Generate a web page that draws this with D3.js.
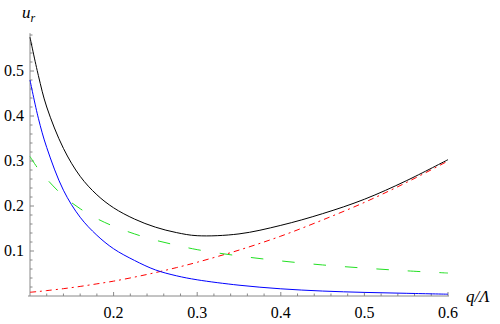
<!DOCTYPE html>
<html>
<head>
<meta charset="utf-8">
<script src="https://cdn.jsdelivr.net/npm/d3@7"></script>
<style>
  body { margin: 0; background: #fff; }
</style>
</head>
<body>
<svg id="chart" width="500" height="324"></svg>
<script>
// Sample points
var qVals     = [0.10, 0.11, 0.12, 0.14, 0.16, 0.18, 0.20, 0.225, 0.25, 0.275, 0.30, 0.35, 0.40, 0.45, 0.50, 0.55, 0.60];
var totalVals = [0.575, 0.49, 0.42, 0.328, 0.266, 0.225, 0.196, 0.171, 0.153, 0.141, 0.134, 0.138, 0.157, 0.183, 0.215, 0.256, 0.303];
var blueVals  = [0.48, 0.395, 0.33, 0.235, 0.175, 0.135, 0.105, 0.079, 0.058, 0.045, 0.036, 0.024, 0.016, 0.011, 0.008, 0.006, 0.004];
var greenVals = [0.31, 0.282, 0.26, 0.222, 0.194, 0.172, 0.155, 0.138, 0.124, 0.113, 0.103, 0.089, 0.078, 0.069, 0.062, 0.056, 0.051];
var redVals   = [0.0083, 0.010, 0.012, 0.0163, 0.0213, 0.027, 0.033, 0.042, 0.052, 0.063, 0.075, 0.102, 0.133, 0.169, 0.208, 0.252, 0.30];

var xTicks = [0.2, 0.3, 0.4, 0.5, 0.6];
var yTicks = [0.1, 0.2, 0.3, 0.4, 0.5];

var serif = "'Liberation Serif', 'DejaVu Serif', serif";

var svg = d3.select('#chart');

var x = d3.scaleLinear().domain([0.1, 0.6]).range([30, 448]);
var y = d3.scaleLinear().domain([0, 0.5]).range([296, 71]);

var axisColor = '#888';

function isMajor(list, d)
{
    return list.some(function(t){ return Math.abs(t - d) < 1e-6; });
}

//--------------------------------------------------------------
// Axes

var gx = svg.append('g');
gx.append('line')
    .attr('x1', x(0.1) - 2).attr('x2', x(0.6) + 1)
    .attr('y1', y(0)).attr('y2', y(0))
    .attr('stroke', axisColor);

var xMinor = d3.range(0.12, 0.601, 0.02);
gx.selectAll('line.minor')
    .data(xMinor)
  .enter().append('line')
    .attr('class', 'minor')
    .attr('x1', function(d){ return x(d); })
    .attr('x2', function(d){ return x(d); })
    .attr('y1', y(0))
    .attr('y2', function(d){ return y(0) - (isMajor(xTicks, d) ? 4 : 2.5); })
    .attr('stroke', axisColor);

gx.selectAll('text')
    .data(xTicks)
  .enter().append('text')
    .attr('x', function(d){ return x(d); })
    .attr('y', y(0) + 22)
    .attr('text-anchor', 'middle')
    .style('font-family', serif)
    .style('font-size', '16px')
    .text(function(d){ return d.toFixed(1); });

var gy = svg.append('g');
gy.append('line')
    .attr('x1', x(0.1)).attr('x2', x(0.1))
    .attr('y1', y(0)).attr('y2', y(0.584))
    .attr('stroke', axisColor);

var yMinor = d3.range(0.02, 0.581, 0.02);
gy.selectAll('line.minor')
    .data(yMinor)
  .enter().append('line')
    .attr('class', 'minor')
    .attr('x1', x(0.1))
    .attr('x2', function(d){ return x(0.1) + (isMajor(yTicks, d) ? 4 : 2.5); })
    .attr('y1', function(d){ return y(d); })
    .attr('y2', function(d){ return y(d); })
    .attr('stroke', axisColor);

gy.selectAll('text')
    .data(yTicks)
  .enter().append('text')
    .attr('x', x(0.1) - 6)
    .attr('y', function(d){ return y(d) + 5; })
    .attr('text-anchor', 'end')
    .style('font-family', serif)
    .style('font-size', '16px')
    .text(function(d){ return d.toFixed(1); });

// Axis labels
var ul = svg.append('text')
    .attr('x', 22).attr('y', 18)
    .style('font-family', serif)
    .style('font-size', '17px')
    .style('font-style', 'italic');
ul.append('tspan').text('u');
ul.append('tspan').style('font-size', '12px').attr('dy', 4).text('r');

svg.append('text')
    .attr('x', 466).attr('y', 302)
    .style('font-family', serif)
    .style('font-size', '17px')
    .style('font-style', 'italic')
    .text('q/Λ');

//--------------------------------------------------------------
// Curves

var series = [
    {vals: redVals,   color: '#ff0000', dash: '6,4,2,4'},
    {vals: greenVals, color: '#22e022', dash: '12.5,19'},
    {vals: blueVals,  color: '#0000ff', dash: null},
    {vals: totalVals, color: '#000000', dash: null}
];

var line = d3.line()
    .x(function(d){ return x(d[0]); })
    .y(function(d){ return y(d[1]); })
    .curve(d3.curveCatmullRom.alpha(0.5));

svg.append('g')
  .selectAll('path')
    .data(series)
  .enter().append('path')
    .attr('d', function(s){ return line(d3.zip(qVals, s.vals)); })
    .attr('fill', 'none')
    .attr('stroke', function(s){ return s.color; })
    .attr('stroke-width', 1)
    .attr('stroke-dasharray', function(s){ return s.dash; });
</script>
</body>
</html>
